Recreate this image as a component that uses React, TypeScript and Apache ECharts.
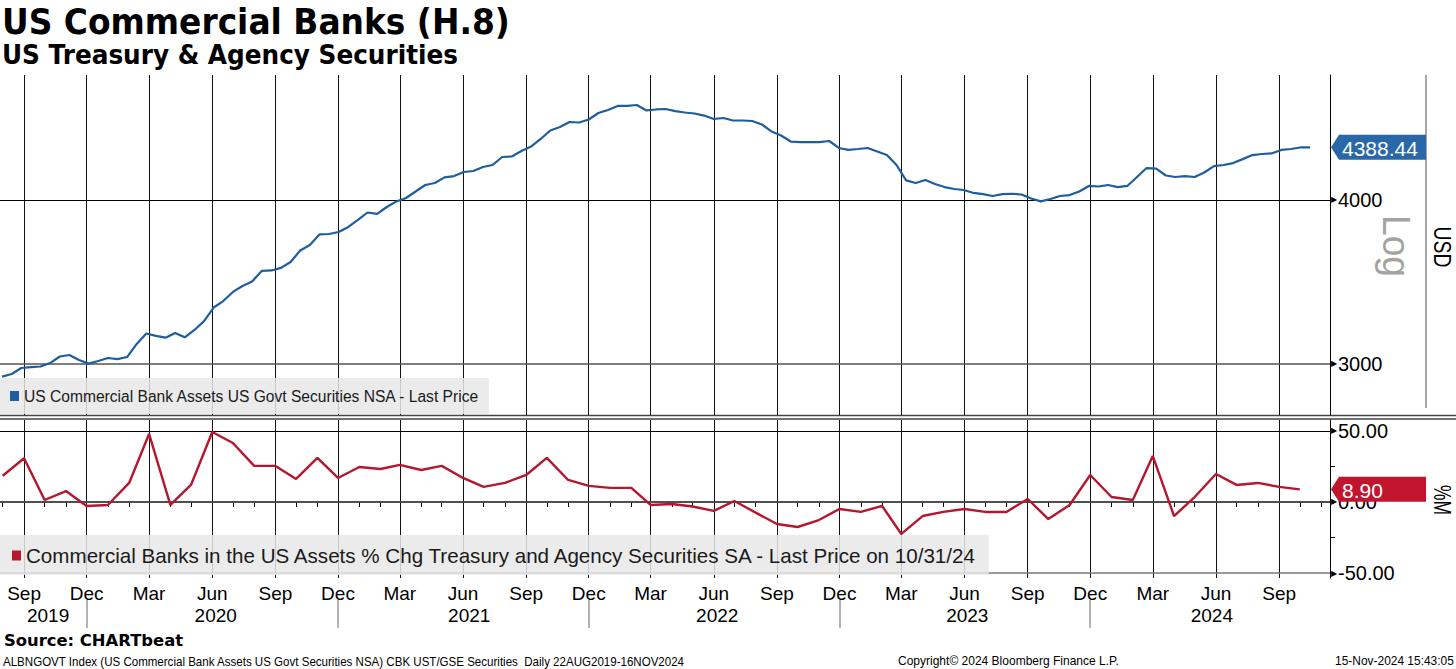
import React, { useEffect, useRef } from "react";
import * as echarts from "echarts";

const TITLE = "US Commercial Banks (H.8)";
const SUBTITLE = "US Treasury & Agency Securities";
const SOURCE = "Source: CHARTbeat";
const FOOTER_LEFT = "ALBNGOVT Index (US Commercial Bank Assets US Govt Securities NSA) CBK UST/GSE Securities  Daily 22AUG2019-16NOV2024";
const FOOTER_MID = "Copyright\u00A9 2024 Bloomberg Finance L.P.";
const FOOTER_RIGHT = "15-Nov-2024 15:43:05";

const BLUE_NAME = "US Commercial Bank Assets US Govt Securities NSA - Last Price";
const RED_NAME = "Commercial Banks in the US Assets % Chg Treasury and Agency Securities SA - Last Price on 10/31/24";

// x range of the chart
const X_MIN = "2019-07-28";
const X_MAX = "2024-11-14";

// Blue series: bi-weekly readings (USD bn), starting date and step
const BLUE_START = "2019-07-31";
const BLUE_STEP_DAYS = 14;
const blueValues = [
  2932, 2946, 2977, 2982, 2985, 3003, 3038, 3046, 3019, 3000,
  3014, 3030, 3024, 3035, 3106, 3163, 3150, 3140, 3166, 3142,
  3183, 3233, 3311, 3349, 3403, 3439, 3466, 3531, 3534, 3550,
  3587, 3660, 3696, 3765, 3768, 3781, 3815, 3862, 3913, 3903,
  3951, 3990, 4014, 4060, 4107, 4121, 4162, 4172, 4202, 4209,
  4239, 4254, 4314, 4318, 4360, 4394, 4453, 4520, 4548, 4588,
  4584, 4608, 4661, 4686, 4719, 4719, 4727, 4682, 4690, 4694,
  4677, 4665, 4657, 4640, 4612, 4620, 4600, 4600, 4596, 4568,
  4512, 4480, 4433, 4429, 4429, 4429, 4437, 4383, 4368, 4375,
  4383, 4356, 4329, 4254, 4140, 4121, 4143, 4114, 4092, 4078,
  4071, 4050, 4042, 4028, 4042, 4044, 4039, 4011, 3990, 4007,
  4028, 4035, 4060, 4100, 4096, 4107, 4092, 4100, 4165, 4231,
  4227, 4176, 4165, 4172, 4165, 4198, 4246, 4254, 4268, 4298,
  4329, 4337, 4341, 4368, 4375, 4387, 4388.44,
];

// Red series: monthly % change, Aug 2019 .. Oct 2024
const RED_START_YEAR = 2019;
const RED_START_MONTH = 7; // August (0-based)
const redValues = [
  18.5, 30.8, 1.4, 7.7, -2.8,
  -2.1, 13.4, 47.9, -2.1, 12.0, 49.3, 41.5, 25.4, 25.4, 16.2, 31.0, 16.9,
  24.6, 23.2, 26.1, 22.5, 25.4, 16.9, 10.6, 13.4, 19.0, 31.0, 15.5, 11.3,
  9.9, 9.9, -2.1, -1.4, -3.2, -6.3, 0.7, -7.5, -15.5, -17.6, -12.7, -4.9,
  -7.0, -2.8, -22.5, -9.9, -7.0, -4.9, -7.0, -7.0, 2.1, -12.0, -2.1, 19.0,
  3.5, 1.4, 32.4, -9.9, 3.5, 19.7, 12.0, 13.4, 10.6, 8.9,
];

// Axis ticks / labels
const quarterTicks = [
  "2019-09-01", "2019-12-01",
  "2020-03-01", "2020-06-01", "2020-09-01", "2020-12-01",
  "2021-03-01", "2021-06-01", "2021-09-01", "2021-12-01",
  "2022-03-01", "2022-06-01", "2022-09-01", "2022-12-01",
  "2023-03-01", "2023-06-01", "2023-09-01", "2023-12-01",
  "2024-03-01", "2024-06-01", "2024-09-01",
];
const yearSeparators = ["2019-12-01", "2020-12-01", "2021-12-01", "2022-12-01", "2023-12-01"];
const yearLabelDates = ["2019-10-06", "2020-06-06", "2021-06-10", "2022-06-06", "2023-06-05", "2024-05-26"];
const topTicks = [3000, 4000];
const bottomTicks = [-50, 0, 50];
const bottomMinorTicks = [-25, 25];
const MONTHS = ["Jan", "Feb", "Mar", "Apr", "May", "Jun", "Jul", "Aug", "Sep", "Oct", "Nov", "Dec"];

const BLUE = "#1f5d9c";
const BLUE_FLAG = "#2a67a7";
const RED = "#b5172e";
const RED_FLAG = "#c1142d";
const FONT = "'Liberation Sans', Arial, sans-serif";
const DAY = 86400000;
const ts = (s: string) => Date.parse(s + "T00:00:00Z");

function measure(text: string, font: string): number {
  const c = document.createElement("canvas").getContext("2d");
  if (!c) return 0;
  c.font = font;
  return c.measureText(text).width;
}
function fitScale(text: string, font: string, target: number): number {
  const w = measure(text, font);
  return w > 0 ? target / w : 1;
}
function fitSize(text: string, size: number, target: number): number {
  const w = measure(text, `${size}px 'Liberation Sans'`);
  return w > 0 ? Math.round(((size * target) / w) * 10) / 10 : size;
}

export default function App() {
  const ref = useRef<HTMLDivElement>(null);
  useEffect(() => {
    if (!ref.current) return;
    const chart = echarts.init(ref.current, undefined, { renderer: "svg" });
    const xMin = ts(X_MIN);
    const xMax = ts(X_MAX);
    const blueData = blueValues.map((v, i) => [ts(BLUE_START) + i * BLUE_STEP_DAYS * DAY, v]);
    const redData = redValues.map((v, i) => [Date.UTC(RED_START_YEAR, RED_START_MONTH + i, 1), v]);
    const monthTicks: number[] = [];
    for (let k = 0; ; k++) {
      const t = Date.UTC(2019, 7 + k, 1);
      if (t > xMax) break;
      monthTicks.push(t);
    }
    const qTs = quarterTicks.map(ts);

    const arrowRich = {
      a: { fontSize: 8, color: "#000", padding: [0, 1, 0, 0] },
      b: { fontSize: 20, color: "#000", fontFamily: FONT },
    };
    const vLines = qTs.map((t) => ({ xAxis: t }));
    const mlBase = {
      silent: true,
      symbol: ["none", "none"],
      z: 1,
      label: { show: false },
      emphasis: { disabled: true },
      lineStyle: { color: "#111", width: 1, type: "solid" },
    };

    const legendTopSize = fitSize(BLUE_NAME, 15, 456);
    const legendBotSize = fitSize(RED_NAME, 20, 951);

    const xBase = { type: "value", min: xMin, max: xMax, scale: true, splitLine: { show: false } };

    const option: any = {
      animation: false,
      backgroundColor: "#fff",
      grid: [
        { left: 0, right: 126, top: 75, height: 340, outerBoundsMode: "none" },
        { left: 0, right: 126, top: 420, height: 158, outerBoundsMode: "none" },
      ],
      xAxis: [
        { ...xBase, gridIndex: 0, show: false },
        {
          ...xBase, gridIndex: 1,
          axisLine: { show: true, lineStyle: { color: "#000", width: 1.5 } },
          axisTick: { show: true, customValues: monthTicks, length: 5, lineStyle: { color: "#000" } },
          axisLabel: {
            customValues: qTs, margin: 6, fontSize: 19, color: "#000", fontFamily: FONT,
            formatter: (v: number) => MONTHS[new Date(v).getUTCMonth()],
          },
        },
        {
          ...xBase, gridIndex: 1, position: "bottom", offset: 22,
          axisLine: { show: false },
          axisTick: { show: true, customValues: yearSeparators.map(ts), length: 28, lineStyle: { color: "#9a9a9a", width: 1.5 } },
          axisLabel: {
            customValues: yearLabelDates.map(ts), margin: 6, fontSize: 19, color: "#000", fontFamily: FONT,
            formatter: (v: number) => String(new Date(v).getUTCFullYear()),
          },
        },
      ],
      yAxis: [
        {
          type: "log", logBase: 10, gridIndex: 0, position: "right", min: 2741, max: 4983,
          axisLine: { show: true, lineStyle: { color: "#000", width: 1 } },
          axisTick: { show: false },
          axisLabel: {
            customValues: topTicks, margin: 1, rich: arrowRich,
            formatter: (v: number) => `{a|\u25B6}{b|${Math.round(v)}}`,
          },
          splitLine: { show: false },
          minorTick: { show: false },
        },
        {
          type: "value", gridIndex: 1, position: "right", min: -53.5, max: 57.7,
          axisLine: { show: true, lineStyle: { color: "#000", width: 1 } },
          axisTick: { show: true, customValues: bottomMinorTicks, length: 5, lineStyle: { color: "#000" } },
          axisLabel: {
            customValues: bottomTicks, margin: 1, rich: arrowRich,
            formatter: (v: number) => `{a|\u25B6}{b|${v.toFixed(2)}}`,
          },
          splitLine: { show: false },
        },
      ],
      legend: [
        {
          data: [BLUE_NAME], left: 0, top: 378, selectedMode: false, icon: "rect",
          itemWidth: 9, itemHeight: 10, padding: [10, 9, 10, 10],
          backgroundColor: "rgba(232,232,232,0.85)",
          textStyle: { fontFamily: FONT, fontSize: legendTopSize, color: "#1a1a1a" },
        },
        {
          data: [RED_NAME], left: 0, top: 535, selectedMode: false, icon: "rect",
          itemWidth: 9, itemHeight: 10, padding: [10, 10, 9, 12],
          backgroundColor: "rgba(232,232,232,0.85)",
          textStyle: { fontFamily: FONT, fontSize: legendBotSize, color: "#1a1a1a" },
        },
      ],
      series: [
        {
          name: BLUE_NAME, type: "line", xAxisIndex: 0, yAxisIndex: 0, data: blueData,
          showSymbol: false, symbol: "none", z: 3,
          lineStyle: { color: BLUE, width: 2.2 }, itemStyle: { color: BLUE },
          markLine: {
            ...mlBase,
            data: [
              ...vLines,
              { yAxis: 4000, lineStyle: { color: "#000", width: 1, type: "solid" } },
              { yAxis: 3000, lineStyle: { color: "#555", width: 1.5, type: "solid" } },
            ],
          },
        },
        {
          name: RED_NAME, type: "line", xAxisIndex: 1, yAxisIndex: 1, data: redData,
          showSymbol: false, symbol: "none", z: 3,
          lineStyle: { color: RED, width: 2.4 }, itemStyle: { color: RED },
          markLine: {
            ...mlBase,
            data: [
              ...vLines,
              { yAxis: 50, lineStyle: { color: "#000", width: 1, type: "solid" } },
              { yAxis: 0, lineStyle: { color: "#555", width: 1.5, type: "solid" } },
              { yAxis: -50, lineStyle: { color: "#777", width: 1.5, type: "solid" } },
            ],
          },
        },
      ],
    };
    chart.setOption(option);

    const xa = chart.convertToPixel({ xAxisIndex: 1 } as any, xMax) as unknown as number;
    const yb = chart.convertToPixel({ yAxisIndex: 0 } as any, blueValues[blueValues.length - 1]) as unknown as number;
    const yr = chart.convertToPixel({ yAxisIndex: 1 } as any, redValues[redValues.length - 1]) as unknown as number;

    const flag = (y: number, color: string, text: string) => ({
      type: "group",
      z: 50,
      children: [
        {
          type: "polygon", z: 50,
          shape: { points: [[xa + 1, y], [xa + 9, y - 12.5], [xa + 96, y - 12.5], [xa + 96, y + 12.5], [xa + 9, y + 12.5]] },
          style: { fill: color },
        },
        {
          type: "text", z: 51, x: xa + 12, y: y + 1,
          style: { text, fill: "#fff", fontSize: 21, fontFamily: FONT, align: "left", verticalAlign: "middle" },
        },
      ],
    });

    const txt = (text: string, x: number, y: number, size: number, bold: boolean, target: number, family = "DejaVu Sans") => ({
      type: "text", x, y,
      scaleX: fitScale(text, `${bold ? "bold " : ""}${size}px '${family}'`, target),
      style: { text, fontFamily: family, fontWeight: bold ? "bold" : "normal", fontSize: size, fill: "#000", align: "left", verticalAlign: "middle" },
    });
    const rotTxt = (text: string, x: number, y: number, size: number, color: string, target: number) => ({
      type: "text", x, y, rotation: -Math.PI / 2,
      scaleX: fitScale(text, `${size}px 'Liberation Sans'`, target),
      style: { text, fontFamily: FONT, fontSize: size, fill: color, align: "center", verticalAlign: "middle" },
    });

    chart.setOption({
      graphic: [
        txt(TITLE, 2, 21, 36, true, 508),
        txt(SUBTITLE, 2, 55, 27, true, 456),
        txt(SOURCE, 4, 641, 16, true, 179),
        txt(FOOTER_LEFT, 3, 661, 12, false, 683, "Liberation Sans"),
        txt(FOOTER_MID, 898, 661, 12, false, 221, "Liberation Sans"),
        txt(FOOTER_RIGHT, 1335, 661, 12, false, 119, "Liberation Sans"),
        rotTxt("Log", 1396, 246, 38, "#a3a3a3", 62),
        rotTxt("USD", 1442, 247, 24, "#000", 41),
        rotTxt("%M", 1443, 500, 24, "#000", 30),
        { type: "line", shape: { x1: 1426, y1: 75, x2: 1426, y2: 408 }, style: { stroke: "#8a8a8a", lineWidth: 1.5 } },
        { type: "line", shape: { x1: 0, y1: 415.5, x2: 1456, y2: 415.5 }, style: { stroke: "#444", lineWidth: 1.5 } },
        { type: "line", shape: { x1: 0, y1: 419, x2: 1456, y2: 419 }, style: { stroke: "#444", lineWidth: 1.5 } },
        flag(yb, BLUE_FLAG, blueValues[blueValues.length - 1].toFixed(2)),
        flag(yr, RED_FLAG, redValues[redValues.length - 1].toFixed(2)),
      ],
    });

    return () => chart.dispose();
  }, []);
  return (
    <div
      ref={ref}
      style={{ position: "fixed", left: 0, top: 0, width: 1456, height: 669, background: "#fff" }}
    />
  );
}
